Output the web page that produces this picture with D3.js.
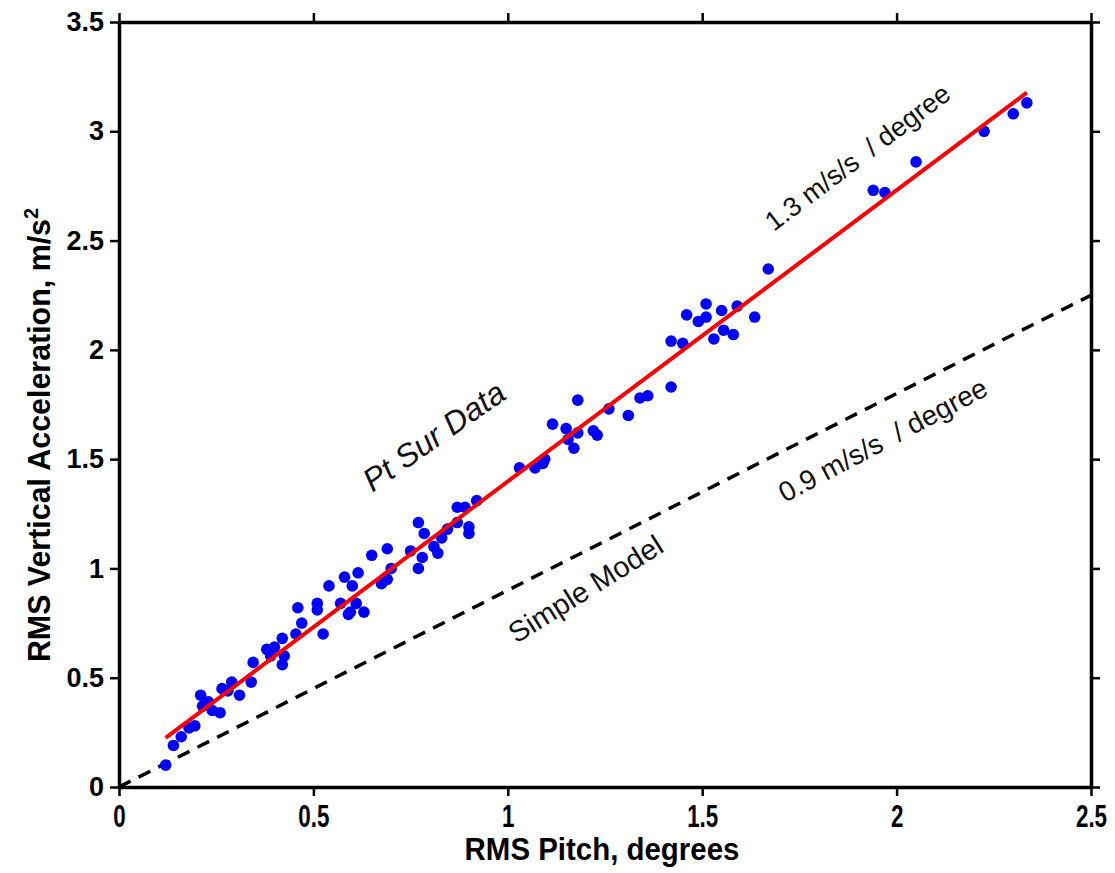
<!DOCTYPE html>
<html lang="en">
<head>
<meta charset="UTF-8">
<title>RMS Vertical Acceleration vs RMS Pitch</title>
<script src="https://d3js.org/d3.v7.min.js"></script>
<style>
    body { margin: 0; background: #fff; }
    svg { display: block; font-family: "Liberation Sans", Arial, sans-serif; }
    .axis path, .axis line { stroke: #000; }
    .axis text { fill: #000; font-weight: bold; }
</style>
</head>
<body>
<svg id="chart" width="1115" height="873"></svg>
<script>
// measured points, RMS pitch (deg) vs RMS vertical acceleration (m/s^2)
const pitch = [0.12, 0.14, 0.16, 0.18, 0.195, 0.21, 0.215, 0.23, 0.24, 0.26, 0.265, 0.28, 0.29, 0.31, 0.34,
    0.345, 0.38, 0.39, 0.40, 0.42, 0.425, 0.42, 0.455, 0.47, 0.46, 0.51, 0.51, 0.525, 0.54, 0.57,
    0.58, 0.60, 0.615, 0.595, 0.61, 0.63, 0.65, 0.59, 0.69, 0.70, 0.675, 0.69, 0.75, 0.77, 0.785,
    0.78, 0.77, 0.81, 0.82, 0.83, 0.845, 0.87, 0.89, 0.87, 0.90, 0.90, 0.92, 1.03, 1.07, 1.09,
    1.095, 1.115, 1.15, 1.155, 1.17, 1.18, 1.18, 1.22, 1.23, 1.26, 1.31, 1.34, 1.36, 1.42, 1.42,
    1.45, 1.46, 1.49, 1.51, 1.51, 1.53, 1.55, 1.555, 1.58, 1.59, 1.635, 1.67, 1.94, 1.97, 2.05,
    2.225, 2.30, 2.335];
const accel = [0.10, 0.19, 0.23, 0.27, 0.28, 0.42, 0.37, 0.39, 0.35, 0.34, 0.45, 0.44, 0.48, 0.42, 0.48,
    0.57, 0.63, 0.60, 0.64, 0.68, 0.60, 0.56, 0.70, 0.75, 0.82, 0.84, 0.81, 0.70, 0.92, 0.84,
    0.96, 0.92, 0.98, 0.80, 0.84, 0.80, 1.06, 0.79, 1.09, 1.00, 0.93, 0.95, 1.08, 1.21, 1.16,
    1.05, 1.00, 1.10, 1.07, 1.14, 1.18, 1.28, 1.28, 1.21, 1.19, 1.16, 1.31, 1.46, 1.46, 1.48,
    1.50, 1.66, 1.64, 1.59, 1.55, 1.77, 1.62, 1.63, 1.61, 1.73, 1.70, 1.78, 1.79, 1.83, 2.04,
    2.03, 2.16, 2.13, 2.15, 2.21, 2.05, 2.18, 2.09, 2.07, 2.20, 2.15, 2.37, 2.73, 2.72, 2.86,
    3.00, 3.08, 3.13];

// fitted line (1.3 m/s/s per degree) and simple model (0.9 m/s/s per degree)
const fitX = [0.12, 2.335];
const fitY = [0.225, 3.177];
const modelX = [0, 2.5];
const modelY = [0, 2.25];

const xTicks = [0, 0.5, 1, 1.5, 2, 2.5];
const yTicks = [0, 0.5, 1, 1.5, 2, 2.5, 3, 3.5];

const svg = d3.select("#chart");
const margin = { top: 22, right: 24, bottom: 86, left: 119 };
const width = 1115 - margin.left - margin.right;
const height = 873 - margin.top - margin.bottom;

const g = svg.append("g").attr("transform", `translate(${margin.left},${margin.top})`);

const x = d3.scaleLinear().domain([0, 2.5]).range([0, width]);
const y = d3.scaleLinear().domain([0, 3.5]).range([height, 0]);

g.append("clipPath").attr("id", "clip")
    .append("rect").attr("width", width).attr("height", height);

const plot = g.append("g").attr("clip-path", "url(#clip)");

// simple model dashed line
plot.append("line")
    .attr("x1", x(modelX[0])).attr("y1", y(modelY[0]))
    .attr("x2", x(modelX[1])).attr("y2", y(modelY[1]))
    .attr("stroke", "#000").attr("stroke-width", 3.5)
    .attr("stroke-dasharray", "13,9");

// points
plot.selectAll(".dot")
    .data(pitch.map((p, i) => [p, accel[i]]))
    .enter().append("circle")
    .attr("class", "dot")
    .attr("cx", d => x(d[0]))
    .attr("cy", d => y(d[1]))
    .attr("r", 5.8)
    .attr("fill", "#0000ff");

// fit line
plot.append("line")
    .attr("x1", x(fitX[0])).attr("y1", y(fitY[0]))
    .attr("x2", x(fitX[1])).attr("y2", y(fitY[1]))
    .attr("stroke", "#ff0000").attr("stroke-width", 4);

// axes, ticks pointing outward on all four sides
const fmt = d => d3.format("")(d);
const bottom = g.append("g").attr("class", "axis")
    .attr("transform", `translate(0,${height})`)
    .call(d3.axisBottom(x).tickValues(xTicks).tickFormat(fmt).tickSize(9).tickSizeOuter(0).tickPadding(8));
bottom.selectAll("text").attr("font-size", 32).attr("transform", "scale(0.7,1)");

const left = g.append("g").attr("class", "axis")
    .call(d3.axisLeft(y).tickValues(yTicks).tickFormat(fmt).tickSize(9).tickSizeOuter(0).tickPadding(6));
left.selectAll("text").attr("font-size", 27);

g.append("g").attr("class", "axis")
    .call(d3.axisTop(x).tickValues(xTicks).tickFormat("").tickSize(9).tickSizeOuter(0));
g.append("g").attr("class", "axis")
    .attr("transform", `translate(${width},0)`)
    .call(d3.axisRight(y).tickValues(yTicks).tickFormat("").tickSize(9).tickSizeOuter(0));

g.selectAll(".axis path").attr("stroke-width", 3.5);
g.selectAll(".axis line").attr("stroke-width", 2.5);

// axis titles
svg.append("text")
    .attr("transform", `translate(${margin.left + width / 2 - 3},860) scale(0.95,1)`)
    .attr("text-anchor", "middle")
    .attr("font-size", 31).attr("font-weight", "bold")
    .text("RMS Pitch, degrees");

const yTitle = svg.append("text")
    .attr("transform", "translate(50,435) rotate(-90) scale(0.95,1)")
    .attr("text-anchor", "middle")
    .attr("font-size", 32).attr("font-weight", "bold");
yTitle.append("tspan").text("RMS Vertical Acceleration, m/s");
yTitle.append("tspan").attr("dy", -12).attr("font-size", 21).text("2");

// annotations
const notes = [
    { text: "1.3 m/s/s  / degree", px: 1.90, py: 2.88, angle: -37, italic: false, size: 27 },
    { text: "0.9 m/s/s  / degree", px: 1.965, py: 1.587, angle: -28, italic: false, size: 28 },
    { text: "Pt Sur Data", px: 0.81, py: 1.605, angle: -35, italic: true, size: 32 },
    { text: "Simple Model", px: 1.20, py: 0.906, angle: -32, italic: false, size: 29 }
];
g.selectAll(".note")
    .data(notes)
    .enter().append("text")
    .attr("class", "note")
    .attr("transform", d => `translate(${x(d.px)},${y(d.py)}) rotate(${d.angle})`)
    .attr("text-anchor", "middle")
    .attr("dominant-baseline", "central")
    .attr("font-size", d => d.size)
    .attr("font-style", d => d.italic ? "italic" : "normal")
    .attr("fill", "#111")
    .style("white-space", "pre")
    .text(d => d.text);
</script>
</body>
</html>
